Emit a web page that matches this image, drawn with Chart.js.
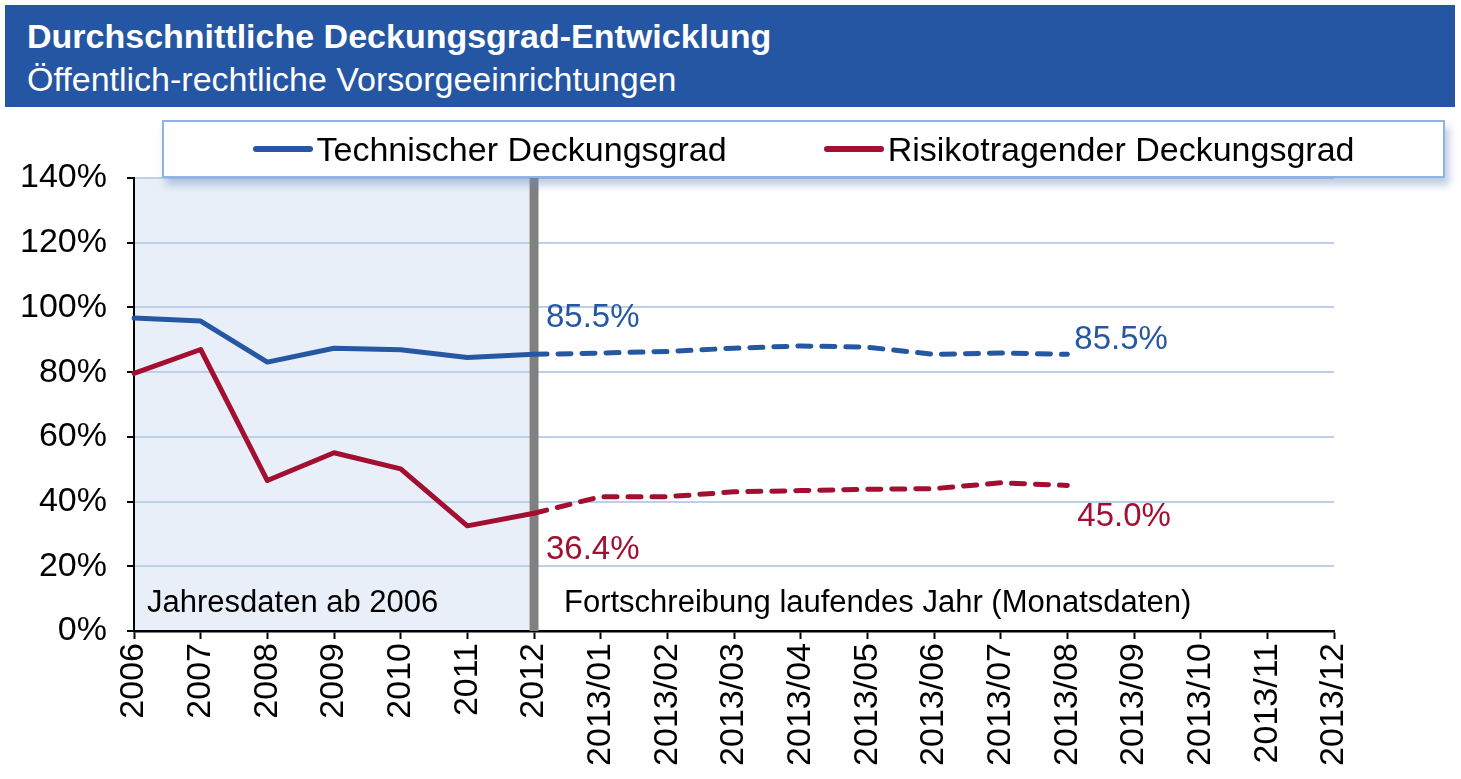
<!DOCTYPE html>
<html>
<head>
<meta charset="utf-8">
<script src="https://cdn.jsdelivr.net/npm/chart.js@4/dist/chart.umd.min.js"></script>
<style>
    body { margin: 0; background: #fff; font-family: 'Liberation Sans', Arial, sans-serif; }
    #wrap { position: relative; width: 1461px; height: 779px; overflow: hidden; }
    #chart { position: absolute; left: 0; top: 0; }
    #head { position: absolute; left: 5px; top: 5px; width: 1450px; height: 102px; background: #2556A3; color: #fff; }
    #head .t1 { position: absolute; left: 22px; top: 11px; font-size: 34px; font-weight: bold; line-height: 40px; white-space: nowrap; }
    #head .t2 { position: absolute; left: 22px; top: 54px; font-size: 34px; line-height: 40px; white-space: nowrap; }
    #legend { position: absolute; left: 162px; top: 120px; width: 1283px; height: 58px; box-sizing: border-box;
        border: 2px solid #8DB4E2; background: #fff; box-shadow: 4px 7px 8px rgba(110, 140, 190, 0.45);
        display: flex; justify-content: center; align-items: center; gap: 97px; z-index: 2; }
    .item { display: flex; align-items: center; font-size: 34px; color: #000; white-space: nowrap; }
    .swatch { width: 60px; height: 6px; border-radius: 3px; margin-right: 4px; }
</style>
</head>
<body>
<div id="wrap">
    <canvas id="chart" width="1461" height="779"></canvas>
    <div id="head">
        <div class="t1">Durchschnittliche Deckungsgrad-Entwicklung</div>
        <div class="t2">Öffentlich-rechtliche Vorsorgeeinrichtungen</div>
    </div>
    <div id="legend"></div>
</div>
<script>
// Data
const categories = ['2006', '2007', '2008', '2009', '2010', '2011', '2012',
    '2013/01', '2013/02', '2013/03', '2013/04', '2013/05', '2013/06',
    '2013/07', '2013/08', '2013/09', '2013/10', '2013/11', '2013/12'];
const technischer = [96.7, 95.8, 83.1, 87.4, 86.9, 84.5, 85.5,
    85.9, 86.4, 87.4, 88.1, 87.7, 85.5, 85.9, 85.5, null, null, null, null];
const risikotragender = [79.6, 87.0, 46.5, 55.1, 50.1, 32.5, 36.4,
    41.5, 41.5, 43.0, 43.4, 43.8, 44.0, 45.8, 45.0, null, null, null, null];
const yTicks = [0, 20, 40, 60, 80, 100, 120, 140];
const splitIndex = 6; // 2012: end of annual data
const lastIndex = 14; // 2013/08: latest month
const regionLabels = ['Jahresdaten ab 2006', 'Fortschreibung laufendes Jahr (Monatsdaten)'];

const BLUE = '#2557A3';
const RED = '#A30F30';
const FONT = "'Liberation Sans', Arial, sans-serif";

const datasets = [
    { label: 'Technischer Deckungsgrad', data: technischer, color: BLUE },
    { label: 'Risikotragender Deckungsgrad', data: risikotragender, color: RED }
];

// HTML legend from the datasets
const legendEl = document.getElementById('legend');
datasets.forEach(ds => {
    const item = document.createElement('div');
    item.className = 'item';
    item.innerHTML = `<span class="swatch" style="background:${ds.color}"></span>${ds.label}`;
    legendEl.appendChild(item);
});

const fmt = v => v.toFixed(1) + '%';

const overlayPlugin = {
    id: 'overlay',
    beforeDraw(chart) {
        const { ctx, chartArea, scales } = chart;
        const xs = scales.x.getPixelForValue(splitIndex);
        ctx.save();
        ctx.fillStyle = '#E9EFF9';
        ctx.fillRect(chartArea.left, chartArea.top, xs - 5 - chartArea.left, chartArea.bottom - chartArea.top);
        ctx.restore();
    },
    beforeDatasetsDraw(chart) {
        const { ctx, chartArea, scales } = chart;
        const xs = scales.x.getPixelForValue(splitIndex);
        ctx.save();
        ctx.fillStyle = '#808080';
        ctx.fillRect(xs - 4.5, chartArea.top, 9, chartArea.bottom - chartArea.top);
        ctx.restore();
    },
    afterDraw(chart) {
        const { ctx, chartArea, scales } = chart;
        const x = scales.x, y = scales.y;
        ctx.save();
        ctx.font = `33px ${FONT}`;
        ctx.textBaseline = 'middle';
        ctx.textAlign = 'left';

        // value labels
        const xs = x.getPixelForValue(splitIndex);
        const xl = x.getPixelForValue(lastIndex);
        ctx.fillStyle = BLUE;
        ctx.fillText(fmt(technischer[splitIndex]), xs + 12, y.getPixelForValue(technischer[splitIndex]) - 36);
        ctx.fillText(fmt(technischer[lastIndex]), xl + 7, y.getPixelForValue(technischer[lastIndex]) - 14);
        ctx.fillStyle = RED;
        ctx.fillText(fmt(risikotragender[splitIndex]), xs + 12, y.getPixelForValue(risikotragender[splitIndex]) + 37);
        ctx.fillText(fmt(risikotragender[lastIndex]), xl + 10, y.getPixelForValue(risikotragender[lastIndex]) + 32);

        // region labels
        ctx.fillStyle = '#000';
        ctx.font = `31px ${FONT}`;
        ctx.fillText(regionLabels[0], chartArea.left + 13, chartArea.bottom - 28);
        ctx.fillText(regionLabels[1], xs + 30, chartArea.bottom - 28);
        ctx.restore();
    }
};

const ctx = document.getElementById('chart').getContext('2d');
new Chart(ctx, {
    type: 'line',
    data: {
        labels: categories,
        datasets: datasets.map(ds => ({
            label: ds.label,
            data: ds.data,
            borderColor: ds.color,
            backgroundColor: ds.color,
            borderWidth: 5,
            pointRadius: 0,
            tension: 0,
            borderCapStyle: 'round',
            borderJoinStyle: 'round',
            segment: {
                borderDash: c => c.p0DataIndex >= splitIndex ? [13, 11] : undefined
            }
        }))
    },
    options: {
        responsive: false,
        animation: false,
        layout: { padding: { top: 178, right: 127, left: 0, bottom: 0 } },
        plugins: {
            legend: { display: false },
            tooltip: { enabled: false }
        },
        scales: {
            x: {
                offset: false,
                grid: { drawOnChartArea: false, drawTicks: true, tickLength: 8, tickColor: '#000', tickWidth: 2 },
                border: { color: '#000', width: 2.5 },
                ticks: {
                    autoSkip: false, maxRotation: 90, minRotation: 90, padding: 4, color: '#000',
                    font: { family: FONT, size: 34 }
                },
                afterFit: s => { s.height = 148; }
            },
            y: {
                min: yTicks[0],
                max: yTicks[yTicks.length - 1],
                afterBuildTicks: s => { s.ticks = yTicks.map(v => ({ value: v })); },
                grid: { color: '#BCD0EA', lineWidth: 2, tickColor: '#000', tickLength: 7, tickWidth: 2 },
                border: { color: '#000', width: 2 },
                ticks: {
                    padding: 20, color: '#000',
                    font: { family: FONT, size: 34 },
                    callback: v => v + '%'
                },
                afterFit: s => { s.width = 134; }
            }
        }
    },
    plugins: [overlayPlugin]
});
</script>
</body>
</html>
